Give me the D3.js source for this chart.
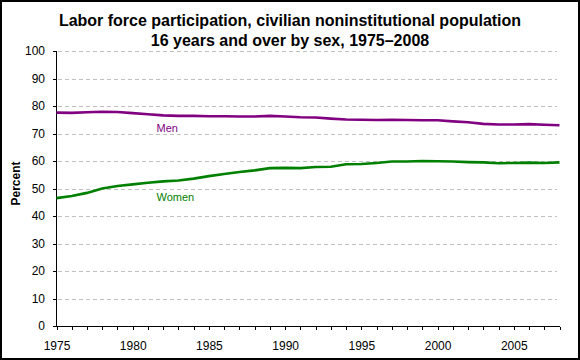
<!DOCTYPE html>
<html><head><meta charset="utf-8">
<script src="https://cdn.jsdelivr.net/npm/d3@7"></script>
<style>
html,body{margin:0;padding:0;background:#fff;}
svg{display:block;}
text{font-family:"Liberation Sans",Arial,sans-serif;}
</style></head>
<body>
<svg id="chart" width="580" height="360"></svg>
<script>
const years = d3.range(1975, 2009);
const men = [77.6,77.5,77.7,77.9,77.8,77.4,77.0,76.6,76.4,76.4,76.3,76.3,76.2,76.2,76.4,76.2,75.9,75.8,75.4,75.1,75.0,74.9,75.0,74.9,74.8,74.8,74.4,74.1,73.5,73.3,73.3,73.4,73.2,73.0];
const women = [46.5,47.3,48.4,50.0,50.9,51.5,52.1,52.6,52.9,53.6,54.5,55.3,56.0,56.6,57.4,57.5,57.4,57.8,57.9,58.8,58.9,59.3,59.8,59.8,60.0,59.9,59.8,59.6,59.5,59.2,59.3,59.4,59.3,59.5];
const yTicks = [0,10,20,30,40,50,60,70,80,90,100];
const xLabelYears = [1975,1980,1985,1990,1995,2000,2005];
const titleLines = ["Labor force participation, civilian noninstitutional population","16 years and over by sex, 1975\u20132008"];
const seriesNames = ["Men","Women"];
const seriesColors = ["#800080","#008000"];

const svg = d3.select("#chart");
svg.append("rect").attr("x",1).attr("y",1).attr("width",578).attr("height",358)
  .attr("fill","#fff").attr("stroke","#000").attr("stroke-width",2);

const x = d3.scaleLinear().domain([1975,2008]).range([56.5,559.5]);
const y = d3.scaleLinear().domain([0,100]).range([326,51]);

// grid
svg.append("g").selectAll("line").data(yTicks.filter(d=>d>0)).join("line")
  .attr("x1",58).attr("x2",557)
  .attr("y1",d=>Math.round(y(d))+0.5).attr("y2",d=>Math.round(y(d))+0.5)
  .attr("stroke","#c0c0c0").attr("stroke-dasharray","4,3").attr("shape-rendering","crispEdges");

// axes
const xAxis = d3.axisBottom(x).tickValues(years).tickSize(3).tickPadding(11.5)
  .tickFormat(d => xLabelYears.includes(d) ? String(d) : "");
const gx = svg.append("g").attr("transform","translate(0,326.5)").call(xAxis);
gx.select(".domain").attr("d","M56,0H560").attr("stroke","#000").attr("shape-rendering","crispEdges");
gx.selectAll(".tick line").attr("stroke","#000").attr("shape-rendering","crispEdges");
gx.selectAll("text").attr("font-size","12px").attr("fill","#000").attr("font-family","Liberation Sans, Arial, sans-serif");

const yAxis = d3.axisLeft(y).tickValues(yTicks).tickSize(4).tickPadding(7.5);
const gy = svg.append("g").attr("transform","translate(56.5,0)").call(yAxis);
gy.select(".domain").attr("d","M0,51V327").attr("stroke","#000").attr("shape-rendering","crispEdges");
gy.selectAll(".tick line").attr("stroke","#000").attr("shape-rendering","crispEdges");
gy.selectAll("text").attr("font-size","12px").attr("fill","#000").attr("font-family","Liberation Sans, Arial, sans-serif");

// lines
const line = d3.line().x((d,i)=>x(years[i])).y(d=>y(d));
[men, women].forEach((s,i)=>{
  svg.append("path").datum(s).attr("d",line).attr("fill","none")
    .attr("stroke",seriesColors[i]).attr("stroke-width",2.6);
});

// series labels
svg.append("text").attr("x",156.5).attr("y",132).attr("font-size","11px").attr("fill",seriesColors[0]).text(seriesNames[0]);
svg.append("text").attr("x",156.5).attr("y",200.5).attr("font-size","11px").attr("fill",seriesColors[1]).text(seriesNames[1]);

// title
svg.append("text").attr("x",290).attr("y",26).attr("text-anchor","middle")
  .attr("font-size","16px").attr("font-weight","bold").text(titleLines[0]);
svg.append("text").attr("x",290).attr("y",46).attr("text-anchor","middle")
  .attr("font-size","16px").attr("font-weight","bold").text(titleLines[1]);

// y label
svg.append("text").attr("transform","translate(20,183.5) rotate(-90)").attr("text-anchor","middle")
  .attr("font-size","12px").attr("font-weight","bold").text("Percent");
</script>
</body></html>
